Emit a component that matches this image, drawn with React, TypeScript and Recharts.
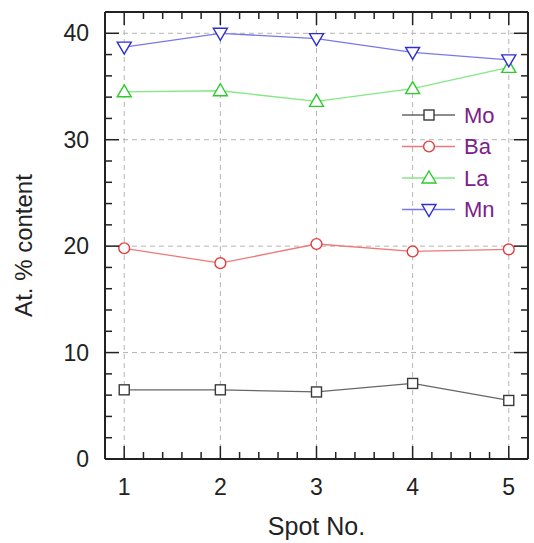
import { LineChart, Line, XAxis, YAxis, CartesianGrid, Legend, Label } from 'recharts';

const spots = [1, 2, 3, 4, 5];
const moValues = [6.5, 6.5, 6.3, 7.1, 5.5];
const baValues = [19.8, 18.4, 20.2, 19.5, 19.7];
const laValues = [34.5, 34.6, 33.6, 34.8, 36.8];
const mnValues = [38.7, 40.0, 39.5, 38.2, 37.5];

const xTicks = [1, 1.2, 1.4, 1.6, 1.8, 2, 2.2, 2.4, 2.6, 2.8, 3, 3.2, 3.4, 3.6, 3.8, 4, 4.2, 4.4, 4.6, 4.8, 5];
const yTicks = [0, 2, 4, 6, 8, 10, 12, 14, 16, 18, 20, 22, 24, 26, 28, 30, 32, 34, 36, 38, 40];
const xGrid = [1, 2, 3, 4, 5];
const yGrid = [10, 20, 30, 40];

const series = [
    { key: 'Mo', values: moValues, line: '#666666', mark: '#3a3a3a', shape: 'square' },
    { key: 'Ba', values: baValues, line: '#f07878', mark: '#e63c3c', shape: 'circle' },
    { key: 'La', values: laValues, line: '#84e884', mark: '#2ccc2c', shape: 'up' },
    { key: 'Mn', values: mnValues, line: '#7878ee', mark: '#2e2ed2', shape: 'down' },
];

const data = spots.map((spot, i) => {
    const row: Record<string, number> = { spot };
    series.forEach(s => { row[s.key] = s.values[i]; });
    return row;
});

const AXIS = '#222222';
const FONT = '"Liberation Sans", Arial, sans-serif';

const Marker = ({ cx, cy, shape, color }: { cx: number; cy: number; shape: string; color: string }) => {
    if (cx == null || cy == null) return <g />;
    const sw = 1.4;
    if (shape === 'square') {
        return <rect x={cx - 5} y={cy - 5} width={10} height={10} fill="#fff" stroke={color} strokeWidth={sw} />;
    }
    if (shape === 'circle') {
        return <circle cx={cx} cy={cy} r={5.4} fill="#fff" stroke={color} strokeWidth={sw} />;
    }
    if (shape === 'up') {
        return <polygon points={`${cx},${cy - 7} ${cx + 7},${cy + 5} ${cx - 7},${cy + 5}`} fill="#fff" stroke={color} strokeWidth={sw} />;
    }
    return <polygon points={`${cx - 7},${cy - 5} ${cx + 7},${cy - 5} ${cx},${cy + 7}`} fill="#fff" stroke={color} strokeWidth={sw} />;
};

const BottomTick = (props: any) => {
    const { x, y, payload } = props;
    const major = Number.isInteger(payload.value);
    return (
        <g>
            <line x1={x} y1={y} x2={x} y2={y - (major ? 13 : 7)} stroke={AXIS} strokeWidth={1.5} />
            {major && (
                <text x={x} y={y + 28} textAnchor="middle" dominantBaseline="central" fontSize={23} fill={AXIS} fontFamily={FONT}>
                    {payload.value}
                </text>
            )}
        </g>
    );
};

const TopTick = (props: any) => {
    const { x, y, payload } = props;
    const major = Number.isInteger(payload.value);
    return <line x1={x} y1={y} x2={x} y2={y + (major ? 13 : 7)} stroke={AXIS} strokeWidth={1.5} />;
};

const LeftTick = (props: any) => {
    const { x, y, payload } = props;
    const major = payload.value % 10 === 0;
    return (
        <g>
            <line x1={x} y1={y} x2={x + (major ? 14 : 7)} y2={y} stroke={AXIS} strokeWidth={1.5} />
            {major && (
                <text x={x - 16} y={y} textAnchor="end" dominantBaseline="central" fontSize={23} fill={AXIS} fontFamily={FONT}>
                    {payload.value}
                </text>
            )}
        </g>
    );
};

const RightTick = (props: any) => {
    const { x, y, payload } = props;
    const major = payload.value % 10 === 0;
    return <line x1={x} y1={y} x2={x - (major ? 14 : 7)} y2={y} stroke={AXIS} strokeWidth={1.5} />;
};

const renderLegend = () => (
    <svg width={130} height={130}>
        {series.map((s, i) => {
            const cy = 17 + i * 31.5;
            return (
                <g key={s.key}>
                    <line x1={4} y1={cy} x2={57} y2={cy} stroke={s.line} strokeWidth={1.3} />
                    <Marker cx={31} cy={cy} shape={s.shape} color={s.mark} />
                    <text x={66} y={cy} dominantBaseline="central" fontSize={22} fill="#7c2188" fontFamily={FONT}>
                        {s.key}
                    </text>
                </g>
            );
        })}
    </svg>
);

export default function App() {
    return (
        <div style={{ position: 'absolute', left: 0, top: 0, fontFamily: FONT }}>
            <LineChart width={534} height={543} data={data} margin={{ top: 11, right: 5, bottom: 0, left: 0 }}>
                <CartesianGrid
                    stroke="#b4b4b4"
                    strokeDasharray="5 4"
                    horizontalValues={yGrid}
                    verticalValues={xGrid}
                />
                <XAxis
                    dataKey="spot"
                    type="number"
                    domain={[0.8, 5.2]}
                    ticks={xTicks}
                    interval={0}
                    height={84}
                    tickSize={0}
                    tickMargin={0}
                    tickLine={false}
                    tick={<BottomTick />}
                    axisLine={{ stroke: AXIS, strokeWidth: 2 }}
                >
                    <Label
                        content={({ viewBox }: any) => (
                            <text
                                x={viewBox.x + viewBox.width / 2}
                                y={viewBox.y + viewBox.height - 8}
                                textAnchor="middle"
                                fontSize={25}
                                fill={AXIS}
                                fontFamily={FONT}
                            >
                                Spot No.
                            </text>
                        )}
                    />
                </XAxis>
                <XAxis
                    xAxisId="top"
                    orientation="top"
                    dataKey="spot"
                    type="number"
                    domain={[0.8, 5.2]}
                    ticks={xTicks}
                    interval={0}
                    height={1}
                    tickSize={0}
                    tickMargin={0}
                    tickLine={false}
                    tick={<TopTick />}
                    axisLine={{ stroke: AXIS, strokeWidth: 2 }}
                />
                <YAxis
                    type="number"
                    domain={[0, 42]}
                    ticks={yTicks}
                    interval={0}
                    width={105}
                    tickSize={0}
                    tickMargin={0}
                    tickLine={false}
                    tick={<LeftTick />}
                    axisLine={{ stroke: AXIS, strokeWidth: 2 }}
                >
                    <Label
                        content={({ viewBox }: any) => {
                            const lx = viewBox.x + 23;
                            const ly = viewBox.y + viewBox.height / 2 + 10;
                            return (
                                <text
                                    x={lx}
                                    y={ly}
                                    transform={`rotate(-90, ${lx}, ${ly})`}
                                    textAnchor="middle"
                                    dominantBaseline="central"
                                    fontSize={24}
                                    fill={AXIS}
                                    fontFamily={FONT}
                                >
                                    At. % content
                                </text>
                            );
                        }}
                    />
                </YAxis>
                <YAxis
                    yAxisId="right"
                    orientation="right"
                    type="number"
                    domain={[0, 42]}
                    ticks={yTicks}
                    interval={0}
                    width={1}
                    tickSize={0}
                    tickMargin={0}
                    tickLine={false}
                    tick={<RightTick />}
                    axisLine={{ stroke: AXIS, strokeWidth: 2 }}
                />
                <Legend
                    layout="vertical"
                    align="center"
                    verticalAlign="middle"
                    content={renderLegend}
                    wrapperStyle={{ left: 398, top: 98, width: 130, height: 130 }}
                />
                {series.map(s => (
                    <Line
                        key={s.key}
                        dataKey={s.key}
                        name={s.key}
                        stroke={s.line}
                        strokeWidth={1.3}
                        isAnimationActive={false}
                        dot={(p: any) => <Marker key={`${s.key}-${p.index}`} cx={p.cx} cy={p.cy} shape={s.shape} color={s.mark} />}
                        activeDot={false}
                    />
                ))}
                <Line
                    xAxisId="top"
                    yAxisId="right"
                    dataKey="Mo"
                    stroke="none"
                    dot={false}
                    activeDot={false}
                    legendType="none"
                    isAnimationActive={false}
                />
            </LineChart>
        </div>
    );
}
